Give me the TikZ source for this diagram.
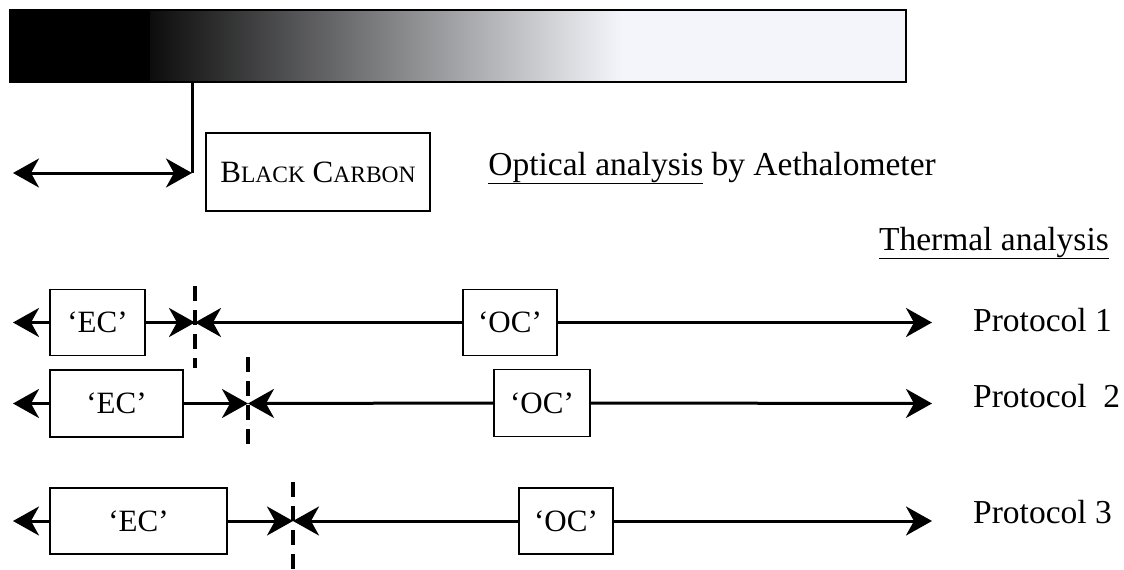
\documentclass[tikz,border=0pt]{standalone}
\usepackage{fontspec}
\setmainfont{Liberation Serif}
\usetikzlibrary{arrows.meta}
\definecolor{barlight}{HTML}{F4F5FA}
\newcommand{\smc}[1]{{\fontsize{23.5}{28}\selectfont #1}}
\tikzset{
  txt/.style={font=\fontsize{33.5}{40}\selectfont, inner sep=0pt},
  box/.style={draw, line width=1.5pt, inner sep=0pt, font=\fontsize{31}{37}\selectfont},
  conn/.style={line width=3pt},
  tipr/.style={conn, -{Stealth[length=26pt,width=29pt,inset=8pt]}},
  tiplr/.style={conn, {Stealth[length=26pt,width=29pt,inset=8pt]}-{Stealth[length=26pt,width=29pt,inset=8pt]}},
  cut/.style={line width=3.8pt, dash pattern=on 15pt off 9pt}
}
\begin{document}
\begin{tikzpicture}[x=1pt,y=-1pt]
\useasboundingbox (0,0) rectangle (1124,570);
% gradient bar
\fill[black] (10,10) rectangle (150,82);
\shade[left color=black!95, right color=barlight] (150,10) rectangle (622,82);
\fill[barlight] (622,10) rectangle (906,82);
\draw[line width=2pt] (10,10) rectangle (906,82);
\coordinate (bartap) at (192,82);
\coordinate (corner) at (192,173);
\coordinate (bcleft) at (13,173);
\draw[conn] (bartap) -- (corner);
\draw[tiplr] (bcleft) -- (corner);
\node[box, minimum width=224pt, minimum height=78pt] (bc) at (318,172) {B\smc{LACK} C\smc{ARBON}};
\node[txt, anchor=east] (opt) at (936,168) {\underline{Optical analysis} by Aethalometer};
\node[txt, anchor=east] (therm) at (1109,243) {\underline{Thermal analysis}};
% protocol 1
\node[box, minimum width=95pt, minimum height=66pt] (ec1) at (97.5,322.5) {‘EC’};
\node[box, minimum width=94pt, minimum height=66pt] (oc1) at (510,322.5) {‘OC’};
\coordinate (l1) at (13,322.5);
\coordinate (d1) at (195,322.5);
\coordinate (r1) at (932,322.5);
\coordinate (d1t) at (195,286);
\coordinate (d1b) at (195,368);
\draw[cut] (d1t) -- (d1b);
\draw[tipr] (ec1.west) -- (l1);
\draw[tipr] (ec1.east) -- (d1);
\draw[tipr] (oc1.west) -- (d1);
\draw[tipr] (oc1.east) -- (r1);
\node[txt, anchor=west] (p1) at (973,320) {Protocol 1};
% protocol 2
\node[box, minimum width=133pt, minimum height=67pt] (ec2) at (116.5,403.5) {‘EC’};
\node[box, minimum width=96pt, minimum height=67pt] (oc2) at (542,403) {‘OC’};
\coordinate (l2) at (13,403.5);
\coordinate (d2) at (248,403.5);
\coordinate (r2) at (932,403.5);
\coordinate (d2t) at (248,357);
\coordinate (d2b) at (248,447);
\draw[cut] (d2t) -- (d2b);
\draw[tipr] (ec2.west) -- (l2);
\draw[tipr] (ec2.east) -- (d2);
\draw[tipr] (oc2.west) -- (d2);
\draw[tipr] (oc2.east) -- (r2);
\node[txt, anchor=west] (p2) at (973,396) {Protocol\ \ 2};
% protocol 3
\node[box, minimum width=177pt, minimum height=66pt] (ec3) at (138.5,521) {‘EC’};
\node[box, minimum width=94pt, minimum height=66pt] (oc3) at (566,521) {‘OC’};
\coordinate (l3) at (13,521);
\coordinate (d3) at (293,521);
\coordinate (r3) at (932,521);
\coordinate (d3t) at (293,482);
\coordinate (d3b) at (293,570);
\draw[cut] (d3t) -- (d3b);
\draw[tipr] (ec3.west) -- (l3);
\draw[tipr] (ec3.east) -- (d3);
\draw[tipr] (oc3.west) -- (d3);
\draw[tipr] (oc3.east) -- (r3);
\node[txt, anchor=west] (p3) at (973,512) {Protocol 3};
\end{tikzpicture}
\end{document}
